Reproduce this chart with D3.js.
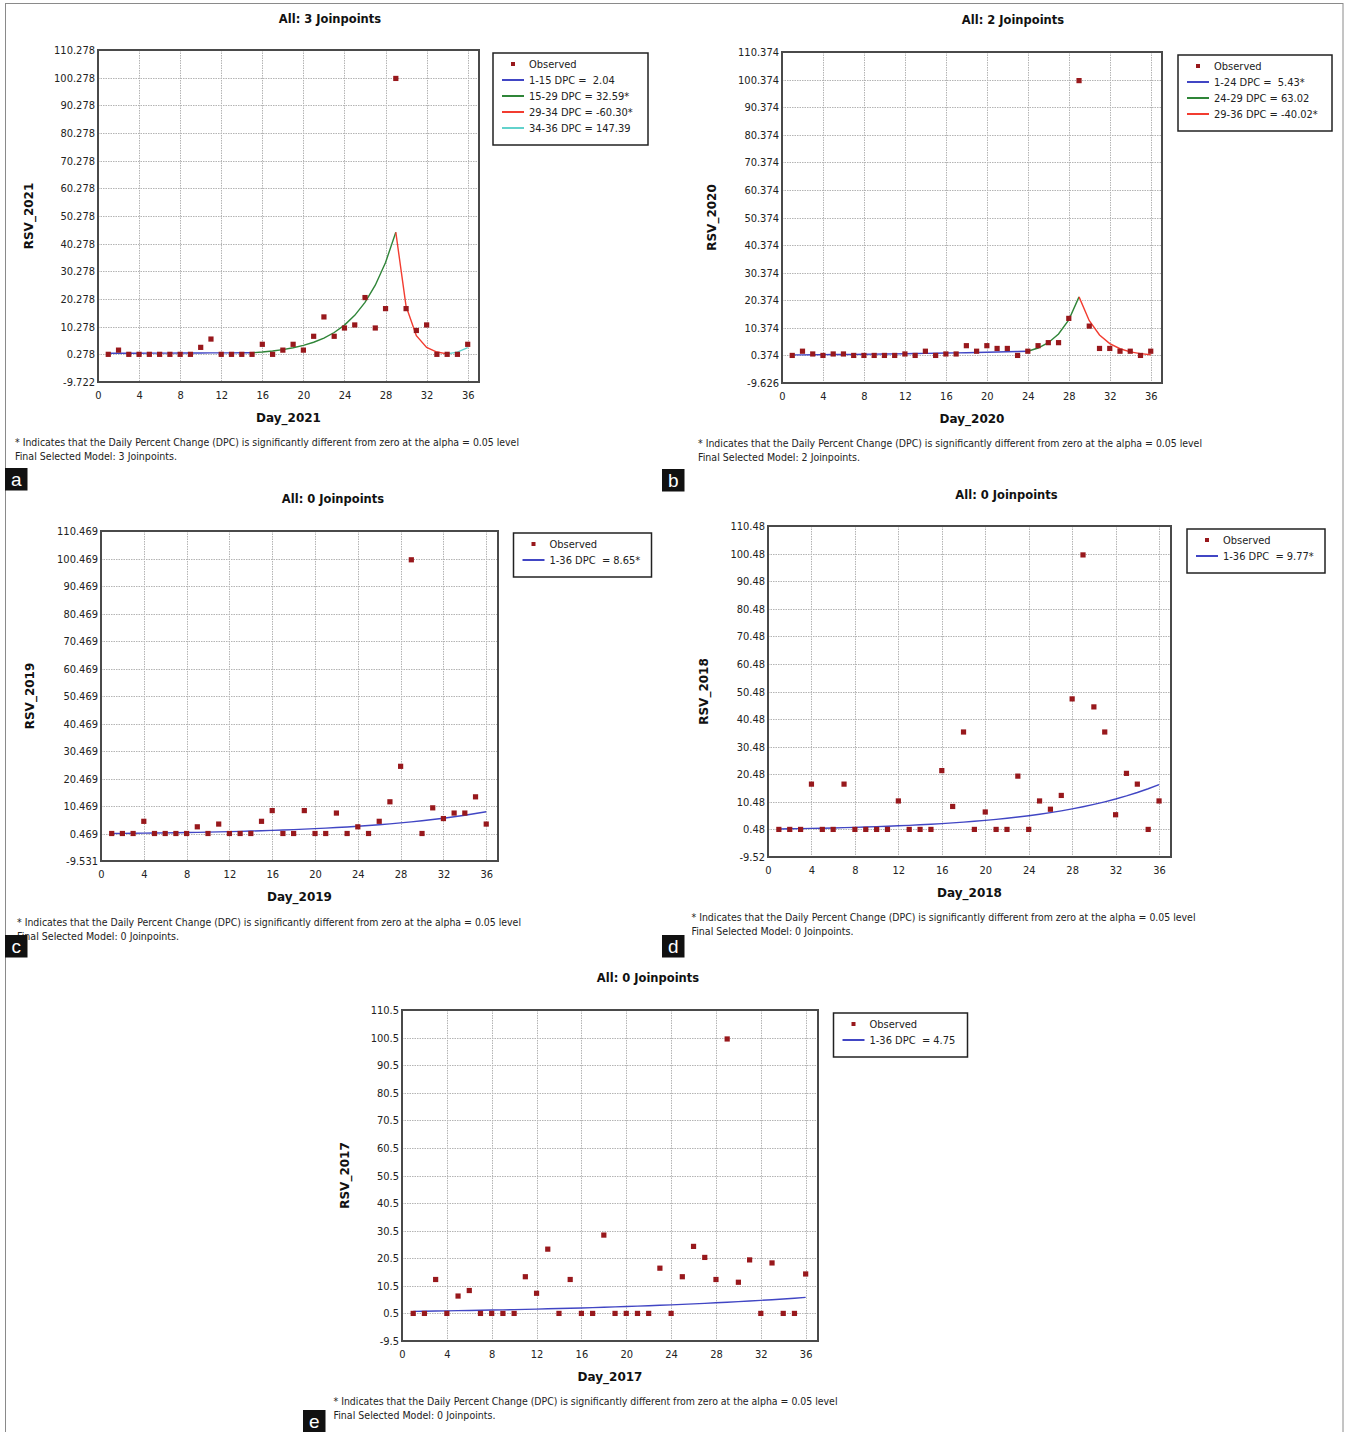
<!DOCTYPE html>
<html>
<head>
<meta charset="utf-8">
<script src="https://cdn.jsdelivr.net/npm/d3@7"></script>
<style>
  body { margin: 0; background: #fff; }
  svg text { font-family: "DejaVu Sans Condensed", "DejaVu Sans", sans-serif; font-stretch: condensed; fill: #222; }
  svg text.bold { font-family: "DejaVu Sans", sans-serif; font-stretch: normal; font-weight: bold; fill: #111; }
  svg text.pre { white-space: pre; }
</style>
</head>
<body>
<svg id="fig" width="1345" height="1432"></svg>
<script>
// ---- data -------------------------------------------------------------
const days = d3.range(1, 37);
const xTicks = [0, 4, 8, 12, 16, 20, 24, 28, 32, 36];
const years = [2021, 2020, 2019, 2018, 2017];
const titles = ["All: 3 Joinpoints", "All: 2 Joinpoints", "All: 0 Joinpoints", "All: 0 Joinpoints", "All: 0 Joinpoints"];
const models = ["Final Selected Model: 3 Joinpoints.", "Final Selected Model: 2 Joinpoints.",
  "Final Selected Model: 0 Joinpoints.", "Final Selected Model: 0 Joinpoints.", "Final Selected Model: 0 Joinpoints."];
const footnote = "* Indicates that the Daily Percent Change (DPC) is significantly different from zero at the alpha = 0.05 level";
const yAxisMin = [-9.722, -9.626, -9.531, -9.52, -9.5];

// observed relative search volume per day
const rsv2021 = [0.28, 1.8, 0.28, 0.28, 0.28, 0.28, 0.28, 0.28, 0.28, 2.8, 5.8, 0.28, 0.28, 0.28, 0.28, 3.9,
  0.28, 1.8, 3.9, 1.8, 6.8, 13.8, 6.8, 9.8, 10.9, 20.8, 9.8, 16.8, 100, 16.8, 8.9, 10.9, 0.28, 0.28, 0.28, 3.9];
const rsv2020 = [0.37, 1.9, 0.9, 0.37, 0.9, 0.9, 0.37, 0.37, 0.37, 0.37, 0.37, 0.9, 0.37, 1.9, 0.37, 0.9,
  0.9, 3.9, 1.9, 3.9, 2.9, 2.9, 0.37, 1.9, 3.9, 5.0, 5.0, 13.8, 100, 11.0, 2.9, 2.9, 1.9, 1.9, 0.37, 1.9];
const rsv2019 = [0.47, 0.47, 0.47, 4.9, 0.47, 0.47, 0.47, 0.47, 2.9, 0.47, 3.9, 0.47, 0.47, 0.47, 4.9, 8.8,
  0.47, 0.47, 8.8, 0.47, 0.47, 7.9, 0.47, 2.9, 0.47, 4.9, 12.0, 24.9, 100, 0.47, 9.8, 5.9, 7.9, 7.9, 13.8, 3.9];
const rsv2018 = [0.48, 0.48, 0.48, 16.9, 0.48, 0.48, 16.9, 0.48, 0.48, 0.48, 0.48, 10.8, 0.48, 0.48, 0.48, 21.8,
  8.8, 35.8, 0.48, 6.8, 0.48, 0.48, 19.8, 0.48, 10.8, 7.8, 12.8, 47.8, 100, 44.9, 35.8, 5.8, 20.8, 16.9, 0.48, 10.8];
const rsv2017 = [0.5, 0.5, 12.8, 0.5, 6.8, 8.8, 0.5, 0.5, 0.5, 0.5, 13.8, 7.8, 23.8, 0.5, 12.8, 0.5,
  0.5, 28.9, 0.5, 0.5, 0.5, 0.5, 16.9, 0.5, 13.8, 24.8, 20.8, 12.8, 100, 11.8, 19.9, 0.5, 18.8, 0.5, 0.5, 14.8];

// joinpoint segments, daily percent change and significance flag
const segments2021 = [[1, 15], [15, 29], [29, 34], [34, 36]];
const dpc2021 = [2.04, 32.59, -60.30, 147.39];
const sig2021 = [false, true, true, false];
const segments2020 = [[1, 24], [24, 29], [29, 36]];
const dpc2020 = [5.43, 63.02, -40.02];
const sig2020 = [true, false, true];
const segments2019 = [[1, 36]];
const dpc2019 = [8.65];
const sig2019 = [true];
const segments2018 = [[1, 36]];
const dpc2018 = [9.77];
const sig2018 = [true];
const segments2017 = [[1, 36]];
const dpc2017 = [4.75];
const sig2017 = [false];

// modelled value at one reference day: [day, value]
const fitAnchor2021 = [29, 44.4];
const fitAnchor2020 = [29, 21.6];
const fitAnchor2019 = [36, 8.4];
const fitAnchor2018 = [36, 16.7];
const fitAnchor2017 = [36, 6.3];

const observed = [rsv2021, rsv2020, rsv2019, rsv2018, rsv2017];
const segments = [segments2021, segments2020, segments2019, segments2018, segments2017];
const dpcs = [dpc2021, dpc2020, dpc2019, dpc2018, dpc2017];
const sigs = [sig2021, sig2020, sig2019, sig2018, sig2017];
const anchors = [fitAnchor2021, fitAnchor2020, fitAnchor2019, fitAnchor2018, fitAnchor2017];

// ---- layout & style ---------------------------------------------------
const segColors = ["#4146c4", "#2f8538", "#f23c30", "#62d2cc"];
const pointColor = "#98181c";
const layout = [
  { x0: 98,  x1: 479,  y0: 50,   y1: 382,  title: [330, 19],    yLabX: 28,    foot: [15, 442],    legend: [493, 53, 155],   tag: [5, 468, "a"] },
  { x0: 782, x1: 1162, y0: 52,   y1: 383,  title: [1013, 20],   yLabX: 711,   foot: [698, 443],   legend: [1178, 55, 154],  tag: [662, 469, "b"] },
  { x0: 101, x1: 498,  y0: 531,  y1: 861,  title: [333, 499],   yLabX: 29.5,  foot: [17, 922],    legend: [513.5, 533, 138], tag: [5, 935, "c"] },
  { x0: 768, x1: 1171, y0: 526,  y1: 857,  title: [1006.5, 494.5], yLabX: 703.5, foot: [691.5, 917], legend: [1187, 529, 138], tag: [662, 935, "d"] },
  { x0: 402, x1: 818,  y0: 1010, y1: 1341, title: [648, 978],   yLabX: 344.5, foot: [333.5, 1401], legend: [833.5, 1013, 134], tag: [303, 1410, "e"] }
];

// plain hyphen-minus for negative numbers
const locale = d3.formatLocale({ decimal: ".", thousands: ",", grouping: [3], currency: ["", ""], minus: "-" });
const numFmt = locale.format("5.2f");
const fixFmt = locale.format(".2f");
const fmtTick = locale.format(".3~f");

const svg = d3.select("#fig");

// outer border of the figure
svg.append("rect").attr("x", 5.5).attr("y", 3.5).attr("width", 1337.5).attr("height", 1440)
  .attr("fill", "none").attr("stroke", "#8a8a8a").attr("stroke-width", 1);

// modelled values at integer days, compounding the DPC of each segment from the reference day
function fittedValues(segs, rates, anchor) {
  const [aDay, aVal] = anchor;
  const v = new Map([[aDay, aVal]]);
  const step = d => {
    const i = segs.findIndex(([a, b]) => d >= a && d < b);
    return 1 + rates[i] / 100;
  };
  for (let d = aDay; d < 36; d++) v.set(d + 1, v.get(d) * step(d));
  for (let d = aDay; d > 1; d--) v.set(d - 1, v.get(d) / step(d - 1));
  return v;
}

layout.forEach((L, p) => {
  const g = svg.append("g");
  const x = d3.scaleLinear().domain([0, 37.1]).range([L.x0, L.x1]);
  const yMin = yAxisMin[p];
  const yTicks = d3.range(13).map(k => yMin + 10 * k);
  const y = d3.scaleLinear().domain([yMin, yMin + 120]).range([L.y1, L.y0]);

  // grid
  const grid = g.append("g").attr("stroke", "#b4b4b4").attr("stroke-width", 1).attr("stroke-dasharray", "1.5,1");
  grid.selectAll("line.h").data(yTicks.slice(1, -1)).join("line")
    .attr("x1", L.x0).attr("x2", L.x1)
    .attr("y1", d => Math.round(y(d)) + 0.5).attr("y2", d => Math.round(y(d)) + 0.5);
  grid.selectAll("line.v").data(xTicks.slice(1)).join("line")
    .attr("y1", L.y0).attr("y2", L.y1)
    .attr("x1", d => Math.round(x(d)) + 0.5).attr("x2", d => Math.round(x(d)) + 0.5);

  // axes (labels only, ticks hidden)
  const yAxis = d3.axisLeft(y).tickValues(yTicks).tickFormat(fmtTick).tickSize(0).tickPadding(3);
  const gy = g.append("g").attr("transform", `translate(${L.x0},0)`).call(yAxis);
  const xAxis = d3.axisBottom(x).tickValues(xTicks).tickFormat(locale.format("d")).tickSize(0).tickPadding(9);
  const gx = g.append("g").attr("transform", `translate(0,${L.y1})`).call(xAxis);
  [gx, gy].forEach(a => {
    a.select(".domain").remove();
    a.selectAll("text").attr("font-size", 11).attr("fill", "#222")
      .style("font-family", '"DejaVu Sans Condensed","DejaVu Sans",sans-serif');
  });

  // fitted joinpoint segments
  const fv = fittedValues(segments[p], dpcs[p], anchors[p]);
  const line = d3.line().x(d => x(d)).y(d => y(fv.get(d)));
  segments[p].forEach(([a, b], i) => {
    g.append("path").datum(d3.range(a, b + 1)).attr("d", line)
      .attr("fill", "none").attr("stroke", segColors[i]).attr("stroke-width", 1.4);
  });

  // observed points
  g.selectAll("rect.pt").data(days).join("rect")
    .attr("x", d => x(d) - 2.6).attr("y", (d, i) => y(observed[p][i]) - 2.6)
    .attr("width", 5.2).attr("height", 5.2).attr("fill", pointColor);

  // frame
  g.append("rect").attr("x", L.x0).attr("y", L.y0).attr("width", L.x1 - L.x0).attr("height", L.y1 - L.y0)
    .attr("fill", "none").attr("stroke", "#4a4a4a").attr("stroke-width", 2);

  // titles
  g.append("text").attr("class", "bold").attr("x", L.title[0]).attr("y", L.title[1] + 4)
    .attr("text-anchor", "middle").attr("font-size", 11.5).text(titles[p]);
  g.append("text").attr("class", "bold").attr("x", (L.x0 + L.x1) / 2).attr("y", L.y1 + 39.5)
    .attr("text-anchor", "middle").attr("font-size", 12).text(`Day_${years[p]}`);
  g.append("text").attr("class", "bold")
    .attr("transform", `translate(${L.yLabX + 4.5},${(L.y0 + L.y1) / 2}) rotate(-90)`)
    .attr("text-anchor", "middle").attr("font-size", 12).text(`RSV_${years[p]}`);

  // legend
  const [lx, ly, lw] = L.legend;
  const rows = segments[p].length + 1;
  const lg = g.append("g");
  lg.append("rect").attr("x", lx).attr("y", ly).attr("width", lw).attr("height", 12 + 16 * rows)
    .attr("fill", "#fff").attr("stroke", "#222").attr("stroke-width", 1.5);
  lg.append("rect").attr("x", lx + 18).attr("y", ly + 9).attr("width", 4).attr("height", 4).attr("fill", pointColor);
  lg.append("text").attr("x", lx + 36).attr("y", ly + 15).attr("font-size", 11).text("Observed");
  segments[p].forEach(([a, b], i) => {
    const cy = ly + 11 + 16 * (i + 1);
    lg.append("line").attr("x1", lx + 9).attr("x2", lx + 31).attr("y1", cy).attr("y2", cy)
      .attr("stroke", segColors[i]).attr("stroke-width", 2);
    const single = segments[p].length === 1;
    const eq = single ? " DPC  = " : " DPC = ";
    const val = single ? fixFmt(dpcs[p][i]) : numFmt(dpcs[p][i]);
    lg.append("text").attr("class", "pre").attr("x", lx + 36).attr("y", cy + 4).attr("font-size", 11)
      .text(`${a}-${b}${eq}${val}${sigs[p][i] ? "*" : ""}`);
  });

  // footnotes
  g.append("text").attr("x", L.foot[0]).attr("y", L.foot[1] + 3.5).attr("font-size", 10)
    .attr("textLength", 504).attr("lengthAdjust", "spacingAndGlyphs").text(footnote);
  g.append("text").attr("x", L.foot[0]).attr("y", L.foot[1] + 18).attr("font-size", 10)
    .attr("textLength", 162).attr("lengthAdjust", "spacingAndGlyphs").text(models[p]);
});

// panel tags drawn on top
layout.forEach(L => {
  const [tx, ty, letter] = L.tag;
  svg.append("rect").attr("x", tx).attr("y", ty).attr("width", 22.5).attr("height", 22.5).attr("fill", "#111");
  svg.append("text").attr("x", tx + 11.25).attr("y", ty + 17.5).attr("text-anchor", "middle")
    .attr("font-size", 19).style("font-family", '"Liberation Sans", Arial, sans-serif').style("font-stretch", "normal")
    .attr("fill", "#fff").style("fill", "#fff").text(letter);
});
</script>
</body>
</html>
